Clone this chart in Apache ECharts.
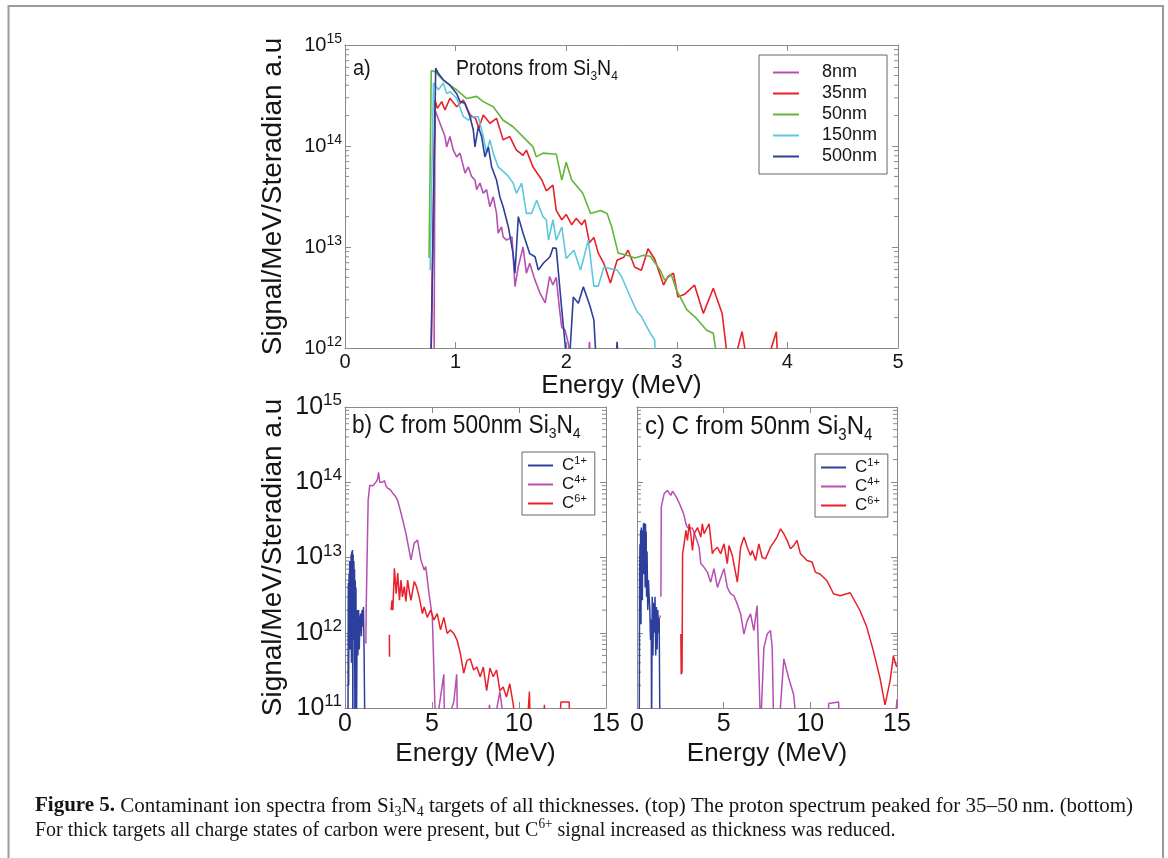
<!DOCTYPE html>
<html><head><meta charset="utf-8">
<script src="https://cdn.jsdelivr.net/npm/echarts@6/dist/echarts.min.js"></script>
<style>html,body{margin:0;padding:0;background:#fff}#c{width:1168px;height:858px}</style>
</head><body><div id="c"></div><script>
// ---------- DATA (energy MeV, signal/MeV/sr) ----------
// Panel a) protons from Si3N4, by target thickness
const p8nm = [[0.775,5e11],[0.805,5e11],[0.814,2.27e14],[0.859,1.68e14],[0.904,1.24e14],[0.919,9.8e13],[0.949,1.24e14],[0.979,9.1e13],[1.01,7.8e13],[1.04,8.5e13],[1.085,5.4e13],[1.115,6.2e13],[1.145,5.0e13],[1.175,4.6e13],[1.19,3.7e13],[1.22,4.3e13],[1.25,3.4e13],[1.28,3.7e13],[1.31,2.5e13],[1.34,3.15e13],[1.37,2.15e13],[1.385,1.37e13],[1.415,1.58e13],[1.43,1.26e13],[1.46,1.17e13],[1.51,1.26e13],[1.537,4.05e12],[1.567,6.4e12],[1.61,1.0e13],[1.64,5.5e12],[1.67,6.9e12],[1.718,4.7e12],[1.763,3.5e12],[1.81,2.8e12],[1.85,5.1e12],[1.88,4.2e12],[1.91,5.0e12],[1.94,2.4e12],[1.96,1.6e12],[1.99,1.5e12],[2.02,1.1e12],[2.04,5e11],[2.19,5e11],[2.21,1.15e12],[2.23,5e11]];
const p35nm = [[0.775,5e11],[0.814,2.85e14],[0.835,2.36e14],[0.874,2.75e14],[0.904,2.27e14],[0.949,2.97e14],[1.01,2.45e14],[1.07,2.85e14],[1.13,2.03e14],[1.18,1.88e14],[1.21,1.5e14],[1.25,2.03e14],[1.31,1.68e14],[1.37,1.88e14],[1.43,1.15e14],[1.49,1.24e14],[1.55,9.1e13],[1.61,8.1e13],[1.64,9.1e13],[1.70,6.2e13],[1.78,4.6e13],[1.82,3.6e13],[1.88,4.1e13],[1.91,2.3e13],[1.96,1.86e13],[2.00,2.1e13],[2.05,1.66e13],[2.09,1.92e13],[2.14,1.66e13],[2.17,1.86e13],[2.21,1.1e13],[2.25,1.24e13],[2.29,8.7e12],[2.34,6.9e12],[2.40,4.4e12],[2.46,7.4e12],[2.52,7.9e12],[2.56,9.3e12],[2.62,6.3e12],[2.68,5.9e12],[2.74,9.6e12],[2.80,7.6e12],[2.88,4.2e12],[2.92,5.1e12],[2.97,5.5e12],[3.01,3.2e12],[3.07,3.4e12],[3.16,4.2e12],[3.24,2.2e12],[3.33,3.9e12],[3.41,2.2e12],[3.48,5e11],[3.59,1.45e12],[3.66,5e11],[3.77,5e11],[3.90,1.45e12],[3.92,5e11]];
const p50nm = [[0.76,7.8e12],[0.78,5.6e14],[0.814,5.45e14],[0.87,4.7e14],[0.949,4.0e14],[1.01,3.6e14],[1.10,2.95e14],[1.19,3.1e14],[1.25,2.75e14],[1.34,2.45e14],[1.43,1.8e14],[1.52,1.55e14],[1.61,1.23e14],[1.70,9.8e13],[1.73,7.8e13],[1.79,8.5e13],[1.91,8.3e13],[1.96,4.6e13],[2.00,6.9e13],[2.05,4.6e13],[2.15,3.4e13],[2.22,2.15e13],[2.31,2.3e13],[2.37,2.15e13],[2.41,1.6e13],[2.47,8.7e12],[2.55,8.3e12],[2.62,7.8e12],[2.70,8.3e12],[2.76,8.1e12],[2.85,5.9e12],[2.89,4.7e12],[2.95,5.3e12],[3.00,3.7e12],[3.09,2.4e12],[3.18,1.95e12],[3.27,1.5e12],[3.33,1.4e12],[3.39,5e11]];
const p150nm = [[0.77,5.9e12],[0.80,4.2e14],[0.844,3.6e14],[0.889,4.2e14],[0.919,3.3e14],[0.949,3.45e14],[1.01,2.97e14],[1.07,1.95e14],[1.115,1.8e14],[1.16,1.95e14],[1.205,1.95e14],[1.25,1.24e14],[1.28,8.5e13],[1.31,1.15e14],[1.34,8.5e13],[1.385,6.2e13],[1.43,5.6e13],[1.477,5.0e13],[1.52,4.3e13],[1.55,3.4e13],[1.597,4.3e13],[1.64,2.15e13],[1.687,2.15e13],[1.733,2.9e13],[1.79,2.0e13],[1.82,1.86e13],[1.84,1.17e13],[1.88,1.86e13],[1.91,1.17e13],[1.96,1.58e13],[2.00,7.7e12],[2.07,9.3e12],[2.13,5.9e12],[2.17,8.7e12],[2.20,1.17e13],[2.25,4.1e12],[2.29,4.1e12],[2.34,6.3e12],[2.46,5.9e12],[2.50,5.1e12],[2.58,3.2e12],[2.64,2.3e12],[2.68,2.05e12],[2.76,1.4e12],[2.80,1.2e12],[2.815,5e11]];
const p500nm = [[0.775,5e11],[0.82,5.9e14],[0.844,5.25e14],[0.889,4.5e14],[0.949,4.0e14],[1.01,3.3e14],[1.04,2.75e14],[1.085,2.65e14],[1.13,1.95e14],[1.16,1.44e14],[1.175,9.8e13],[1.205,1.55e14],[1.235,1.24e14],[1.265,7.8e13],[1.296,9.8e13],[1.326,6.2e13],[1.37,4.6e13],[1.40,3.15e13],[1.43,2.5e13],[1.477,1.58e13],[1.52,8.6e12],[1.537,5.5e12],[1.567,2.0e13],[1.61,1.37e13],[1.67,8.6e12],[1.718,8.0e12],[1.748,5.9e12],[1.793,6.9e12],[1.853,8.0e12],[1.88,9.8e12],[1.91,9.7e12],[1.96,2.4e12],[2.02,5e11],[2.064,3.2e12],[2.11,2.77e12],[2.155,4.05e12],[2.215,2.6e12],[2.25,1.9e12],[2.28,5e11],[2.44,5e11],[2.46,1.15e12],[2.48,5e11]];

// Panel b) carbon from 500nm Si3N4 (null = gap)
const b_C1 = [[0.17,5e10],[0.19,4.6e12],[0.21,2e11],[0.23,6e12],[0.25,1.5e12],[0.27,9e12],[0.29,6e11],[0.31,8e12],[0.33,3e12],[0.35,1.1e13],[0.37,4e11],[0.39,1.2e13],[0.41,2e12],[0.43,1.26e13],[0.45,5e10],[0.47,1.1e13],[0.49,8e11],[0.51,9e12],[0.53,3e12],[0.55,7e12],[0.57,5e10],[0.59,5e12],[0.61,1e12],[0.63,4e12],[0.66,5e10],[0.70,2e12],[0.74,5e11],[0.78,2e12],[0.82,6e11],[0.86,1.5e12],[0.90,1.8e12],[0.94,9e11],[0.98,2e12],[1.02,1.2e12],[1.06,2.2e12],[1.10,5e11],[1.14,5e10]];
const b_C4 = [[1.20,7.2e11],[1.22,2.2e12],[1.33,5.7e13],[1.42,9.1e13],[1.50,9.6e13],[1.61,9.0e13],[1.70,9.2e13],[1.80,1.02e14],[1.87,1.1e14],[1.93,1.35e14],[2.00,1.0e14],[2.08,9.6e13],[2.15,1.0e14],[2.27,1.05e14],[2.35,9.0e13],[2.46,8.3e13],[2.60,8.0e13],[2.75,7.1e13],[2.90,6.5e13],[3.03,5.7e13],[3.22,3.9e13],[3.50,2.1e13],[3.79,9.3e12],[3.98,1.55e13],[4.17,1.7e13],[4.36,9.3e12],[4.55,6.8e12],[4.64,7.6e12],[4.83,3.3e12],[5.02,1.6e12],[5.21,5e10],[5.30,5e10],[5.68,2.8e11],[5.72,5e10],[6.25,1.2e11],[6.42,2.8e11],[6.47,5e10],[8.20,5e10],[8.30,1.1e11],[8.50,5e10],[8.90,1.65e11],[9.20,5e10]];
const b_C6 = [[2.55,9.4e11],[2.56,4.8e11],[2.60,null],[2.65,2.0e12],[2.70,2.7e12],[2.75,2.0e12],[2.84,7.2e12],[2.94,3.3e12],[3.03,6.2e12],[3.13,2.7e12],[3.22,5.0e12],[3.30,3.0e12],[3.41,4.1e12],[3.50,2.6e12],[3.60,5.0e12],[3.70,3.5e12],[3.79,2.7e12],[3.98,4.8e12],[4.11,4.1e12],[4.26,3.0e12],[4.45,1.8e12],[4.55,2.2e12],[4.73,1.6e12],[4.92,2.0e12],[5.11,1.48e12],[5.30,1.8e12],[5.49,1.09e12],[5.68,1.6e12],[5.87,9.8e11],[6.06,1.09e12],[6.25,9.8e11],[6.44,8.0e11],[6.63,5.3e11],[6.82,2.9e11],[7.01,4.3e11],[7.20,4.5e11],[7.39,3.2e11],[7.58,3.5e11],[7.77,2.6e11],[7.95,3.5e11],[8.14,1.7e11],[8.33,3.4e11],[8.52,2.6e11],[8.71,3.2e11],[8.90,1.7e11],[9.09,1.9e11],[9.28,1.4e11],[9.47,2.1e11],[9.66,1.15e11],[9.85,5e10],[10.0,null],[10.45,5e10],[10.60,1.65e11],[10.65,5e10],[11.0,null],[11.40,5e10],[11.46,1.1e11],[11.50,5e10],[12.0,null],[12.30,5e10],[12.41,1.2e11],[12.88,1.2e11],[12.95,5e10]];

// Panel c) carbon from 50nm Si3N4
const c_C1 = [[0.13,5e10],[0.15,5e12],[0.17,1.5e13],[0.19,3e12],[0.21,2.3e13],[0.23,1.3e12],[0.25,2.5e13],[0.27,5e12],[0.29,1.8e13],[0.31,2.7e12],[0.33,2.3e13],[0.35,8e12],[0.37,2.8e13],[0.39,6e12],[0.41,2.9e13],[0.43,1e13],[0.45,2.6e13],[0.47,4e12],[0.49,2.8e13],[0.51,9e12],[0.53,2.2e13],[0.55,3e12],[0.58,1.2e13],[0.62,2e12],[0.66,5e12],[0.70,3e12],[0.74,2e12],[0.78,8e11],[0.82,1.5e12],[0.84,5e10],[0.88,3e12],[0.92,5e11],[0.96,2.5e12],[1.00,1e12],[1.04,3e12],[1.08,5e11],[1.12,2.2e12],[1.16,6e11],[1.20,2.0e12],[1.24,1e12],[1.28,1.6e12],[1.32,5e10]];
const c_C4 = [[1.32,1.7e12],[1.36,1.6e12],[1.37,null],[1.38,3e12],[1.40,4.7e13],[1.48,5.7e13],[1.57,7.1e13],[1.66,6.8e13],[1.76,7.8e13],[1.85,7.2e13],[1.95,6.7e13],[2.05,7.6e13],[2.15,7.4e13],[2.25,6.5e13],[2.34,6.4e13],[2.45,5.2e13],[2.53,4.7e13],[2.62,4.2e13],[2.72,3.6e13],[2.82,2.8e13],[2.91,2.5e13],[3.20,2.45e13],[3.39,1.87e13],[3.58,1.38e13],[3.68,8.3e12],[3.87,7.4e12],[4.06,6.4e12],[4.25,4.7e12],[4.44,7.1e12],[4.64,4.0e12],[4.83,5.4e12],[5.02,7.1e12],[5.21,4.0e12],[5.40,3.3e12],[5.59,3.1e12],[5.79,2.4e12],[5.98,1.78e12],[6.17,9.6e11],[6.36,1.45e12],[6.55,1.78e12],[6.74,1.07e12],[6.93,2.3e12],[7.13,5e10],[7.32,6.3e11],[7.51,9.6e11],[7.70,1.07e12],[7.80,6.3e11],[7.89,5e10],[8.18,5e10],[8.47,4.5e11],[8.75,2.5e11],[9.04,1.5e11],[9.23,5e10],[9.50,null],[11.00,5e10],[11.06,1.15e11],[11.63,1.2e11],[11.70,5e10],[12.0,null],[14.85,5e10],[15.0,1.3e11]];
const c_C6 = [[2.53,9.6e11],[2.55,2.8e11],[2.60,3e11],[2.63,1.12e13],[2.72,1.52e13],[2.82,2.3e13],[2.91,1.69e13],[3.01,2.8e13],[3.10,2.07e13],[3.20,1.24e13],[3.30,2.07e13],[3.49,2.5e13],[3.68,1.87e13],[3.77,2.8e13],[3.87,2.07e13],[3.97,2.3e13],[4.16,2.8e13],[4.35,1.12e13],[4.44,1.24e13],[4.64,1.37e13],[4.83,1.12e13],[5.02,1.52e13],[5.21,8.3e12],[5.31,1.44e13],[5.50,1.06e13],[5.79,4.7e12],[5.98,1.37e13],[6.17,1.87e13],[6.36,1.37e13],[6.55,1.06e13],[6.65,1.24e13],[6.84,9.1e12],[7.03,1.52e13],[7.22,1.0e13],[7.41,9.6e12],[7.70,1.37e13],[7.89,1.6e13],[8.08,1.87e13],[8.28,2.4e13],[8.47,2.07e13],[8.66,1.69e13],[8.85,1.31e13],[9.04,1.44e13],[9.23,1.69e13],[9.43,1.12e13],[9.81,9.1e12],[10.10,8.7e12],[10.29,6.4e12],[10.57,6.0e12],[10.96,4.9e12],[11.34,3.3e12],[11.72,3.1e12],[12.30,3.4e12],[12.87,1.96e12],[13.26,1.18e12],[13.64,5.7e11],[14.02,2.5e11],[14.31,1.1e11],[14.60,2.3e11],[14.79,4.9e11],[14.98,3.5e11]];

const protonNames = ['8nm','35nm','50nm','150nm','500nm'];
const carbonNames = ['C1+','C4+','C6+'];
const topXTicks = {min:0, max:5, interval:1};
const botXTicks = {min:0, max:15, interval:5};
const topYRange = {min:1e12, max:1e15};
const botYRange = {min:1e11, max:1e15};

// ---------- STYLE ----------
const FONT = '"Liberation Sans", Arial, sans-serif';
const SERIF = '"Liberation Serif", "Times New Roman", serif';
const GREY = '#8a8a8a';
const INK = '#151515';
const COL = {mag:'#B64FB2', red:'#E8202A', green:'#62B43A', cyan:'#5CC8DB', navy:'#2D3F9D'};

function toData(arr){ return arr.map(p => [p[0], p[1] === null ? '-' : p[1]]); }
function minors(lo, hi){ const out=[]; for(let e=lo;e<hi;e++){ for(let m=2;m<=9;m++) out.push(m*Math.pow(10,e)); } return out; }

function xAxis(grid, ticks, pos, fs, gap){
  const bottom = pos === 'bottom';
  return {type:'value', gridIndex:grid, position:pos, min:ticks.min, max:ticks.max, interval:ticks.interval,
    axisLine:{show:true, onZero:false, lineStyle:{color:GREY, width:1}},
    axisTick:{show:true, inside:true, length:6, lineStyle:{color:GREY}},
    axisLabel:{show:bottom, fontSize:fs, fontFamily:FONT, color:INK, margin:4},
    splitLine:{show:false},
    name: bottom ? 'Energy (MeV)' : '', nameLocation:'middle', nameGap:gap,
    nameTextStyle:{fontSize:26, fontFamily:FONT, color:INK}};
}
function yAxis(grid, range, pos, fs, showLabels, title){
  return {type:'log', logBase:10, gridIndex:grid, position:pos, min:range.min, max:range.max,
    axisLine:{show:true, onZero:false, lineStyle:{color:GREY, width:1}},
    axisTick:{show:true, inside:true, length:6, lineStyle:{color:GREY}},
    axisLabel:{show:showLabels, margin:3,
      formatter: v => '{b|10}{s|' + Math.round(Math.log10(v)) + '}',
      rich:{b:{fontSize:fs, fontFamily:FONT, color:INK, lineHeight:fs+5},
            s:{fontSize:Math.round(fs*0.68), fontFamily:FONT, color:INK, verticalAlign:'top', lineHeight:Math.round(fs*0.68)+1}}},
    splitLine:{show:false},
    name: title ? 'Signal/MeV/Steradian a.u' : '', nameLocation:'middle', nameGap:58, nameRotate:90,
    nameTextStyle:{fontSize:28, fontFamily:FONT, color:INK}};
}
function line(name, data, color, xi, yi, w){
  return {type:'line', name, data:toData(data), xAxisIndex:xi, yAxisIndex:yi, symbol:'none', showSymbol:false,
    lineStyle:{color, width:w}, itemStyle:{color}, clip:true, animation:false, silent:true};
}
function minorTicks(xi, yi, xr, yr){
  const lo = Math.round(Math.log10(yr.min)), hi = Math.round(Math.log10(yr.max));
  return {type:'custom', xAxisIndex:xi, yAxisIndex:yi, silent:true, clip:false, animation:false,
    data: minors(lo, hi).map(v => [xr.min, xr.max, v]), encode:{x:[0,1], y:2},
    renderItem:(p, api) => {
      const a = api.coord([api.value(0), api.value(2)]);
      const b = api.coord([api.value(1), api.value(2)]);
      return {type:'group', children:[
        {type:'line', shape:{x1:a[0], y1:a[1], x2:a[0]+4, y2:a[1]}, style:{stroke:GREY, lineWidth:1}},
        {type:'line', shape:{x1:b[0], y1:b[1], x2:b[0]-4, y2:b[1]}, style:{stroke:GREY, lineWidth:1}}]};
    }};
}
function carbonLegend(left, top){
  return {left, top, orient:'vertical', data:carbonNames, icon:'rect', itemWidth:25, itemHeight:2, itemGap:0,
    padding:[3,8,3,6], borderColor:'#666', borderWidth:1, backgroundColor:'#fff', selectedMode:false,
    formatter: n => '{c|C}{s|' + n.slice(1) + '}',
    textStyle:{padding:[0,0,0,4], rich:{c:{fontSize:17, fontFamily:FONT, color:INK, lineHeight:21},
      s:{fontSize:11, fontFamily:FONT, color:INK, verticalAlign:'top', lineHeight:13}}}};
}
function label(x, y, main, fs, sy){
  return {type:'text', x, y, scaleY:sy, z:50, style:{
    text: main + '{t|Si}{u|3}{t|N}{u|4}', fontSize:fs, fontFamily:FONT, fill:INK, verticalAlign:'middle',
    rich:{t:{fontSize:fs, fontFamily:FONT, fill:INK, lineHeight:fs+6},
          u:{fontSize:Math.round(fs*0.62), fontFamily:FONT, fill:INK, verticalAlign:'bottom', lineHeight:Math.round(fs*0.62)}}}};
}

const chart = echarts.init(document.getElementById('c'), null, {renderer:'canvas'});
chart.setOption({
  animation:false,
  backgroundColor:'#fff',
  grid:[
    {left:345, top:45, width:553, height:303, outerBoundsMode:'none'},
    {left:345, top:407, width:261, height:301, outerBoundsMode:'none'},
    {left:637, top:407, width:260, height:301, outerBoundsMode:'none'}
  ],
  xAxis:[
    xAxis(0, topXTicks, 'bottom', 20, 22), xAxis(0, topXTicks, 'top', 20, 0),
    xAxis(1, botXTicks, 'bottom', 25, 33), xAxis(1, botXTicks, 'top', 25, 0),
    xAxis(2, botXTicks, 'bottom', 25, 33), xAxis(2, botXTicks, 'top', 25, 0)
  ],
  yAxis:[
    yAxis(0, topYRange, 'left', 20, true, true), yAxis(0, topYRange, 'right', 20, false, false),
    yAxis(1, botYRange, 'left', 25, true, true), yAxis(1, botYRange, 'right', 25, false, false),
    yAxis(2, botYRange, 'left', 25, false, false), yAxis(2, botYRange, 'right', 25, false, false)
  ],
  legend:[
    {left:759, top:55, orient:'vertical', data:protonNames, icon:'rect', itemWidth:26, itemHeight:2, itemGap:0,
     padding:[7,10,7,14], borderColor:'#666', borderWidth:1, backgroundColor:'#fff', selectedMode:false,
     textStyle:{fontSize:18, fontFamily:FONT, color:INK, lineHeight:21, padding:[0,0,0,18]}},
    carbonLegend(522, 452),
    carbonLegend(815, 454)
  ],
  series:[
    line('8nm', p8nm, COL.mag, 0, 0, 1.6),
    line('35nm', p35nm, COL.red, 0, 0, 1.6),
    line('50nm', p50nm, COL.green, 0, 0, 1.6),
    line('150nm', p150nm, COL.cyan, 0, 0, 1.6),
    line('500nm', p500nm, COL.navy, 0, 0, 1.6),
    line('C1+', b_C1, COL.navy, 2, 2, 1.5),
    line('C4+', b_C4, COL.mag, 2, 2, 1.5),
    line('C6+', b_C6, COL.red, 2, 2, 1.5),
    line('C1+', c_C1, COL.navy, 4, 4, 1.5),
    line('C4+', c_C4, COL.mag, 4, 4, 1.5),
    line('C6+', c_C6, COL.red, 4, 4, 1.5),
    minorTicks(0, 0, topXTicks, topYRange),
    minorTicks(2, 2, botXTicks, botYRange),
    minorTicks(4, 4, botXTicks, botYRange)
  ],
  graphic:[
    {type:'rect', shape:{x:8.5, y:6, width:1154.5, height:900}, style:{fill:'none', stroke:'#9a9a9a', lineWidth:2}, z:-1},
    {type:'text', x:353, y:69, scaleY:1.12, z:50, style:{text:'a)', fontSize:20, fontFamily:FONT, fill:INK, verticalAlign:'middle'}},
    label(456, 69, '{t|Protons from }', 19.5, 1.12),
    label(352, 426, '{t|b) C from 500nm }', 22.7, 1.1),
    label(645, 427, '{t|c) C from 50nm }', 24, 1.08),
    {type:'text', x:35, y:806, z:50, style:{
      text:'{b|Figure 5.} {r|Contaminant ion spectra from Si}{d|3}{r|N}{d|4}{r| targets of all thicknesses. (top) The proton spectrum peaked for 35\u201350\u2009nm. (bottom)}',
      verticalAlign:'middle', fontFamily:SERIF, fontSize:21, fill:INK,
      rich:{b:{fontFamily:SERIF, fontWeight:'bold', fontSize:21, fill:INK, lineHeight:26},
            r:{fontFamily:SERIF, fontSize:21, fill:INK, lineHeight:26},
            d:{fontFamily:SERIF, fontSize:14, fill:INK, verticalAlign:'bottom', lineHeight:16}}}},
    {type:'text', x:35, y:830, scaleX:0.95, z:50, style:{
      text:'{r|For thick targets all charge states of carbon were present, but C}{p|6+}{r| signal increased as thickness was reduced.}',
      verticalAlign:'middle', fontFamily:SERIF, fontSize:21, fill:INK,
      rich:{r:{fontFamily:SERIF, fontSize:21, fill:INK, lineHeight:26},
            p:{fontFamily:SERIF, fontSize:14, fill:INK, verticalAlign:'top', lineHeight:16}}}}
  ]
});
</script></body></html>
